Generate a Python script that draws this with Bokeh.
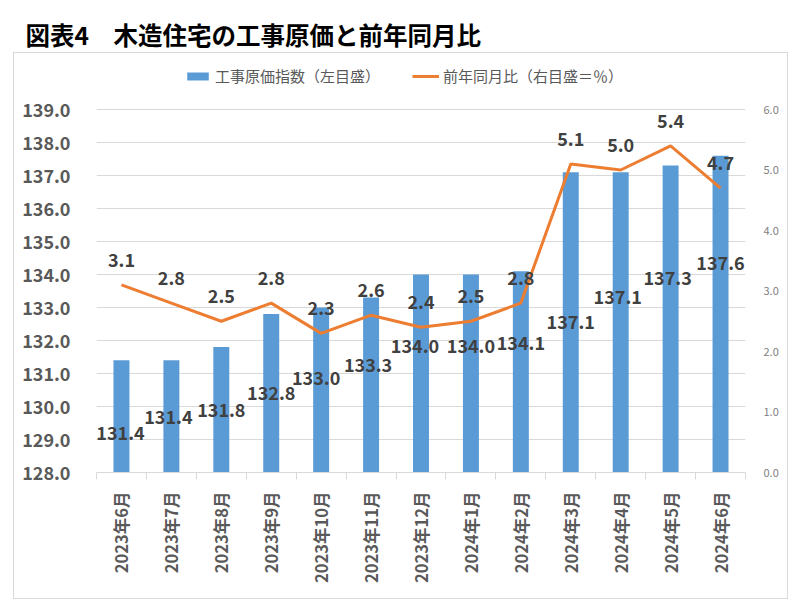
import math
from bokeh.plotting import figure
from bokeh.models import (ColumnDataSource, Range1d, LinearAxis, FixedTicker,
                          NumeralTickFormatter, Legend, LegendItem, Title, InlineStyleSheet)
from bokeh.core.properties import value
from bokeh.embed import file_html
from bokeh.resources import INLINE

# ---- data ----
months = ["2023年6月", "2023年7月", "2023年8月", "2023年9月", "2023年10月", "2023年11月",
          "2023年12月", "2024年1月", "2024年2月", "2024年3月", "2024年4月", "2024年5月", "2024年6月"]
cost_index = [131.4, 131.4, 131.8, 132.8, 133.0, 133.3, 134.0, 134.0, 134.1, 137.1, 137.1, 137.3, 137.6]
yoy_pct = [3.1, 2.8, 2.5, 2.8, 2.3, 2.6, 2.4, 2.5, 2.8, 5.1, 5.0, 5.4, 4.7]
left_ticks = [128, 129, 130, 131, 132, 133, 134, 135, 136, 137, 138, 139]
right_ticks = [0, 1, 2, 3, 4, 5, 6]

# label placement (pixel offsets below bar top, as in the original chart)
bar_label_dy = [73, 57, 63, 79, 70, 67, 71, 71, 72, 150, 125, 112, 107]
bar_label_dx = [-1, -3, 0, 0, -5, -3, -6, 0, 0, 0, -3, -3, 0]

FONT = "Noto Sans CJK JP"
BLUE = "#5b9bd5"
ORANGE = "#ed7d31"

# layout (pixels)
W, H = 792, 601
AXIS_H = 363          # height of the 128..139 axis span
EXTRA = 51            # frame space above the axes for the legend
BORDER_L, BORDER_R, BORDER_B = 96, 47, 129
BORDER_T = H - BORDER_B - AXIS_H - EXTRA

lo, hi = left_ticks[0], left_ticks[-1]
rlo, rhi = right_ticks[0], right_ticks[-1]
left_top = hi + (hi - lo) * EXTRA / AXIS_H
right_top = rhi + (rhi - rlo) * EXTRA / AXIS_H

n = len(months)
xc = [i + 0.5 for i in range(n)]

src = ColumnDataSource(dict(
    x=xc, top=cost_index, pct=yoy_pct,
    bar_txt=[f"{v:.1f}" for v in cost_index],
    pct_txt=[f"{v:.1f}" for v in yoy_pct],
    dy=bar_label_dy, dx=bar_label_dx,
))

border_css = InlineStyleSheet(css="""
:host::after { content: ""; position: absolute; left: 13px; top: 52px;
  width: 775px; height: 547px; box-sizing: border-box;
  border: 1px solid #d9d9d9; pointer-events: none; z-index: 10; }
""")

p = figure(width=W, height=H, output_backend="svg", toolbar_location=None,
           x_range=Range1d(0, n), y_range=Range1d(lo, left_top), title=None,
           min_border_left=BORDER_L, min_border_right=BORDER_R,
           min_border_top=BORDER_T, min_border_bottom=BORDER_B,
           stylesheets=[border_css])
p.extra_y_ranges = {"pct": Range1d(rlo, right_top)}
p.outline_line_color = None
p.background_fill_color = "white"
p.border_fill_color = "white"

bars = p.vbar(x="x", top="top", bottom=lo, width=0.32, source=src,
              fill_color=BLUE, line_color=None)
line = p.line(x="x", y="pct", source=src, y_range_name="pct",
              line_color=ORANGE, line_width=3)

p.text(x="x", y="top", text="bar_txt", source=src, x_offset="dx", y_offset="dy",
       text_font=value(FONT), text_font_style="bold", text_font_size="18px",
       text_color="#404040", text_align="center", text_baseline="middle")
p.text(x="x", y="pct", text="pct_txt", source=src, y_range_name="pct", y_offset=-25,
       text_font=value(FONT), text_font_style="bold", text_font_size="18px",
       text_color="#404040", text_align="center", text_baseline="middle")

# grid
p.xgrid.grid_line_color = None
p.ygrid.grid_line_color = "#d9d9d9"
p.ygrid.grid_line_width = 1

# x axis
xa = p.xaxis[0]
xa.ticker = FixedTicker(ticks=xc, minor_ticks=list(range(n + 1)))
xa.major_label_overrides = {x: m for x, m in zip(xc, months)}
xa.major_label_orientation = math.pi / 2
xa.major_tick_line_color = None
xa.minor_tick_in = 0
xa.minor_tick_out = 7
xa.minor_tick_line_color = "#d9d9d9"
xa.axis_line_color = "#d9d9d9"
xa.major_label_text_font = FONT
xa.major_label_text_font_style = "bold"
xa.major_label_text_font_size = "16.5px"
xa.major_label_text_color = "#595959"
xa.major_label_standoff = 12

# left axis
ya = p.yaxis[0]
ya.ticker = FixedTicker(ticks=left_ticks)
ya.formatter = NumeralTickFormatter(format="0.0")
ya.axis_line_color = None
ya.major_tick_line_color = None
ya.minor_tick_line_color = None
ya.major_label_text_font = FONT
ya.major_label_text_font_style = "bold"
ya.major_label_text_font_size = "18px"
ya.major_label_text_color = "#595959"
ya.major_label_standoff = 20

# right axis
ra = LinearAxis(y_range_name="pct", ticker=FixedTicker(ticks=right_ticks),
                formatter=NumeralTickFormatter(format="0.0"))
ra.axis_line_color = None
ra.major_tick_line_color = None
ra.minor_tick_line_color = None
ra.major_label_text_font = FONT
ra.major_label_text_font_size = "11px"
ra.major_label_text_color = "#808080"
ra.major_label_standoff = 12
p.add_layout(ra, "right")

# legend (inside the frame, in the band above the axes)
legend = Legend(items=[LegendItem(label="工事原価指数（左目盛）", renderers=[bars]),
                       LegendItem(label="前年同月比（右目盛＝％）", renderers=[line])],
                orientation="horizontal", location=(88, AXIS_H + EXTRA - 28),
                label_text_font=FONT, label_text_font_size="15px", label_text_color="#595959",
                glyph_width=27, glyph_height=10, label_standoff=4, spacing=32,
                padding=4, margin=0, border_line_color=None, background_fill_alpha=0)
p.add_layout(legend, "center")

title = Title(text="図表4　木造住宅の工事原価と前年同月比", text_font=FONT,
              text_font_size="24.5px", text_font_style="bold", text_color="#000000",
              align="left", offset=-71, standoff=14)
p.add_layout(title, "above")

open("out.html", "w").write(file_html(p, INLINE))
